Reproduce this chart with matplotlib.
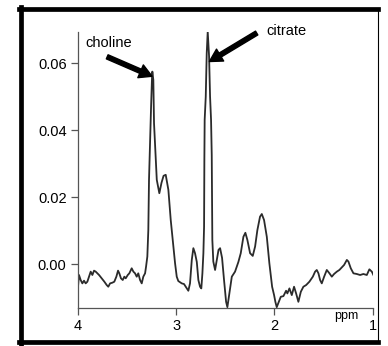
import matplotlib

matplotlib.use("Agg")
import matplotlib.pyplot as plt
from matplotlib.lines import Line2D
from matplotlib.transforms import blended_transform_factory

plt.rcParams["font.family"] = ["Liberation Sans", "DejaVu Sans"]

# spectrum (chemical shift in ppm, signal amplitude)
ppm = [3.995, 3.987, 3.970, 3.953, 3.936, 3.919, 3.902, 3.885, 3.868, 3.851,
       3.834, 3.817, 3.800, 3.783, 3.756, 3.729, 3.705, 3.689, 3.671, 3.648,
       3.628, 3.607, 3.590, 3.577, 3.560, 3.542, 3.526, 3.512, 3.491, 3.475,
       3.451, 3.434, 3.417, 3.400, 3.384, 3.366, 3.349, 3.333, 3.315, 3.305,
       3.292, 3.282, 3.275, 3.264, 3.254, 3.244, 3.241, 3.231, 3.224, 3.207,
       3.196, 3.170, 3.148, 3.127, 3.105, 3.078, 3.054, 3.027, 3.010, 2.993,
       2.977, 2.942, 2.919, 2.891, 2.875, 2.858, 2.840, 2.824, 2.807, 2.789,
       2.773, 2.756, 2.743, 2.732, 2.722, 2.715, 2.712, 2.709, 2.698, 2.688,
       2.678, 2.664, 2.654, 2.644, 2.637, 2.631, 2.621, 2.603, 2.586, 2.568,
       2.552, 2.532, 2.512, 2.491, 2.478, 2.458, 2.433, 2.400, 2.366, 2.342,
       2.315, 2.295, 2.275, 2.247, 2.220, 2.196, 2.173, 2.146, 2.128, 2.105,
       2.077, 2.051, 2.023, 2.003, 1.990, 1.976, 1.955, 1.935, 1.908, 1.881,
       1.868, 1.847, 1.823, 1.800, 1.779, 1.756, 1.731, 1.705, 1.677, 1.644,
       1.609, 1.586, 1.569, 1.552, 1.535, 1.518, 1.494, 1.467, 1.440, 1.416,
       1.393, 1.365, 1.339, 1.314, 1.291, 1.263, 1.247, 1.223, 1.196, 1.162,
       1.128, 1.095, 1.060, 1.034, 1.009, 0.993]
signal = [-0.0060, -0.0032, -0.0047, -0.0057, -0.0049, -0.0057, -0.0052, -0.0037, -0.0022, -0.0032,
          -0.0019, -0.0022, -0.0027, -0.0032, -0.0042, -0.0052, -0.0062, -0.0067, -0.0057, -0.0055,
          -0.0052, -0.0037, -0.0019, -0.0027, -0.0042, -0.0047, -0.0037, -0.0042, -0.0032, -0.0027,
          -0.0012, -0.0022, -0.0027, -0.0037, -0.0027, -0.0047, -0.0057, -0.0037, -0.0027, -0.0007,
          0.0023, 0.0102, 0.0252, 0.0371, 0.0470, 0.0560, 0.0575, 0.0550, 0.0421, 0.0321,
          0.0252, 0.0212, 0.0243, 0.0264, 0.0267, 0.0222, 0.0132, 0.0053, 0.0003, -0.0037,
          -0.0050, -0.0057, -0.0059, -0.0072, -0.0079, -0.0057, 0.0013, 0.0048, 0.0033, 0.0007,
          -0.0047, -0.0067, -0.0072, -0.0027, 0.0033, 0.0112, 0.0311, 0.0431, 0.0500, 0.0630,
          0.0694, 0.0620, 0.0500, 0.0431, 0.0326, 0.0073, 0.0008, -0.0017, 0.0013, 0.0043,
          0.0048, 0.0019, -0.0047, -0.0112, -0.0128, -0.0087, -0.0037, -0.0022, 0.0007, 0.0033,
          0.0082, 0.0094, 0.0073, 0.0033, 0.0025, 0.0053, 0.0102, 0.0142, 0.0150, 0.0132,
          0.0082, 0.0003, -0.0067, -0.0092, -0.0112, -0.0128, -0.0112, -0.0097, -0.0095, -0.0079,
          -0.0087, -0.0072, -0.0092, -0.0067, -0.0087, -0.0112, -0.0082, -0.0067, -0.0062, -0.0052,
          -0.0037, -0.0022, -0.0017, -0.0027, -0.0047, -0.0057, -0.0037, -0.0017, -0.0027, -0.0037,
          -0.0029, -0.0022, -0.0017, -0.0009, -0.0002, 0.0013, 0.0008, -0.0012, -0.0027, -0.0029,
          -0.0032, -0.0029, -0.0032, -0.0015, -0.0022, -0.0032]

x_ticks = [4, 3, 2, 1]
y_ticks = [0.00, 0.02, 0.04, 0.06]
y_tick_labels = ["0.00", "0.02", "0.04", "0.06"]

# peak labels: (text, text anchor, arrow tail, arrow tip)
peak_labels = [
    ("choline", (3.925, 0.0661), (3.70, 0.0619), (3.244, 0.0561)),
    ("citrate", (2.085, 0.0697), (2.18, 0.0690), (2.661, 0.0605)),
]

fig = plt.figure(figsize=(3.88, 3.46), dpi=100)
ax = fig.add_axes([0.2003, 0.1098, 0.7603, 0.7986])

ax.plot(ppm, signal, color="#2b2b2b", linewidth=1.3)
ax.set_xlim(4, 1)
ax.set_ylim(-0.01305, 0.0694)

ax.set_xticks(x_ticks)
ax.set_yticks(y_ticks)
ax.set_yticklabels(y_tick_labels)
for spine in ("top", "right"):
    ax.spines[spine].set_visible(False)
for spine in ("left", "bottom"):
    ax.spines[spine].set_color("#555555")
    ax.spines[spine].set_linewidth(0.9)
ax.tick_params(direction="out", length=5, width=0.9, color="#555555",
               labelsize=10.5, pad=3)

trans = blended_transform_factory(ax.transData, ax.transAxes)
ax.text(1.265, -0.03, "ppm", transform=trans, ha="center", va="center", fontsize=9)

for label, text_xy, tail, tip in peak_labels:
    ax.text(text_xy[0], text_xy[1], label, ha="left", va="center", fontsize=10.5)
    ax.annotate("", xy=tip, xytext=tail,
                arrowprops=dict(facecolor="black", edgecolor="black", width=3.2,
                                headwidth=10, headlength=9, shrink=0))

# outer frame of the panel: heavy on left/top/bottom, thin on the right
W, H = 388.0, 346.0
left, right, top, bottom = 21.0, 378.0, 8.5, 342.0
for xs, ys, lw in [((left, left), (top - 2, bottom + 2), 3.4),
                   ((left - 2, right), (top, top), 3.4),
                   ((left - 2, right), (bottom, bottom), 3.4),
                   ((right, right), (top, bottom), 0.8)]:
    fig.add_artist(Line2D([x / W for x in xs], [1 - y / H for y in ys],
                          transform=fig.transFigure, color="black", linewidth=lw))

fig.savefig("out.png", dpi=100)
